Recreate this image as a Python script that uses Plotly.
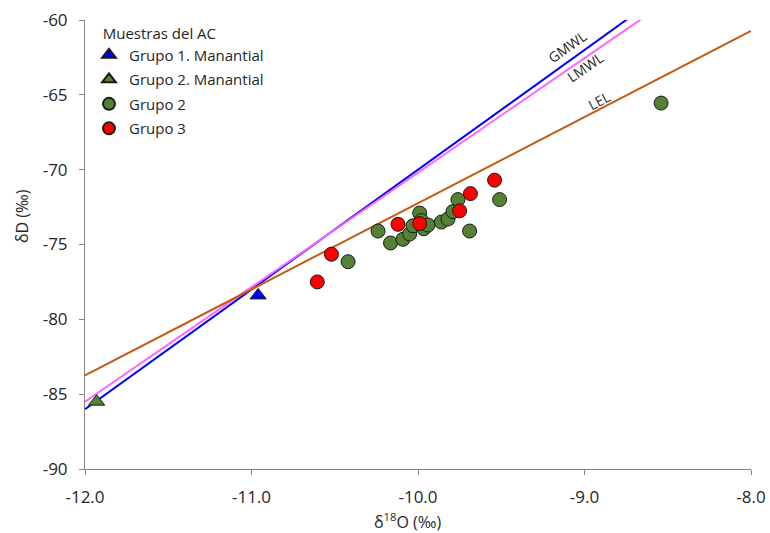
import math
import plotly.graph_objects as go

# ---------------- data ----------------
g1_man_x = [-10.96]
g1_man_y = [-78.4]

g2_man_x = [-11.93]
g2_man_y = [-85.5]

g2_x = [-10.42, -10.24, -10.165, -10.09, -10.05, -10.03, -9.99, -9.98, -9.965,
        -9.94, -9.86, -9.82, -9.79, -9.76, -9.69, -9.51, -8.54]
g2_y = [-76.15, -74.1, -74.9, -74.65, -74.3, -73.75, -72.9, -73.4, -73.95,
        -73.7, -73.5, -73.3, -72.8, -72.0, -74.1, -72.0, -65.55]

g3_x = [-10.605, -10.52, -10.12, -9.99, -9.75, -9.685, -9.54]
g3_y = [-77.5, -75.65, -73.65, -73.6, -72.75, -71.6, -70.7]

# reference lines: dD = slope * d18O + intercept
line_names = ["GMWL", "LMWL", "LEL"]
line_slopes = [8.0, 7.65, 5.755]
line_intercepts = [10.0, 6.3, -14.69]
line_colors = ["#0000FF", "#FF66FF", "#C55A11"]
line_x_range = [-12.0, -8.0]
# label positions (along each line)
label_x = [-9.10, -9.00, -8.91]
label_y = [-61.8, -63.15, -65.4]

x_ticks = [-12.0, -11.0, -10.0, -9.0, -8.0]
x_tick_labels = ["-12.0", "-11.0", "-10.0", "-9.0", "-8.0"]
y_ticks = [-90, -85, -80, -75, -70, -65, -60]
y_tick_labels = ["-90", "-85", "-80", "-75", "-70", "-65", "-60"]

FONT = "Open Sans"
TXT = "#262626"

fig = go.Figure()

for name, m, b, col in zip(line_names, line_slopes, line_intercepts, line_colors):
    fig.add_trace(go.Scatter(
        x=line_x_range, y=[m * v + b for v in line_x_range],
        mode="lines", line=dict(color=col, width=2),
        showlegend=False, hoverinfo="skip"))

mk_line = dict(color="#1a1a1a", width=1)
fig.add_trace(go.Scatter(
    x=g1_man_x, y=g1_man_y, mode="markers", name="Grupo 1. Manantial", legendgroup="a",
    marker=dict(symbol="triangle-up", size=14, color="#0000FF", line=mk_line)))
fig.add_trace(go.Scatter(
    x=g2_man_x, y=g2_man_y, mode="markers", name="Grupo 2. Manantial", legendgroup="b",
    marker=dict(symbol="triangle-up", size=14, color="#548235", line=mk_line)))
fig.add_trace(go.Scatter(
    x=g2_x, y=g2_y, mode="markers", name="Grupo 2", legendgroup="c",
    marker=dict(symbol="circle", size=14, color="#548235", line=mk_line)))
fig.add_trace(go.Scatter(
    x=g3_x, y=g3_y, mode="markers", name="Grupo 3", legendgroup="d",
    marker=dict(symbol="circle", size=14, color="#FF0000", line=mk_line)))

L, R, T, B = 85, 19, 20, 64
W, H = 770, 533
pw, ph = W - L - R, H - T - B
for name, m, lx, ly in zip(line_names, line_slopes, label_x, label_y):
    ang = math.degrees(math.atan(m * (ph / 30.0) / (pw / 4.0)))
    fig.add_annotation(x=lx, y=ly, text=name, showarrow=False, textangle=-ang,
                       xanchor="center", yanchor="middle",
                       font=dict(family=FONT, size=14, color=TXT))

# axis titles
fig.add_annotation(xref="paper", yref="paper", x=(407 - L) / pw, y=(H - B - 521) / ph,
                   xanchor="center", yanchor="middle",
                   text="δ<sup>18</sup>O (‰)", showarrow=False,
                   font=dict(family=FONT, size=16, color=TXT))
fig.add_annotation(xref="paper", yref="paper", x=(22 - L) / pw, y=(H - B - 216) / ph,
                   xanchor="center", yanchor="middle",
                   text="δD (‰)", showarrow=False, textangle=-90,
                   font=dict(family=FONT, size=16, color=TXT))

axis_common = dict(showgrid=False, zeroline=False, showline=True, automargin=False,
                   linecolor="#868686", linewidth=1, ticks="outside",
                   tickcolor="#868686", ticklen=5,
                   tickfont=dict(family=FONT, size=17, color=TXT),
                   ticklabelstandoff=8)

fig.update_layout(
    width=W, height=H,
    margin=dict(l=L, r=R, t=T, b=B, autoexpand=False),
    paper_bgcolor="white", plot_bgcolor="white",
    xaxis=dict(range=[-12, -8], tickvals=x_ticks, ticktext=x_tick_labels, **axis_common),
    yaxis=dict(range=[-90, -60], tickvals=y_ticks, ticktext=y_tick_labels, **axis_common),
    legend=dict(x=0.006, y=1.002, xanchor="left", yanchor="top",
                bgcolor="rgba(0,0,0,0)", itemsizing="constant",
                title=dict(text="&nbsp;&nbsp;&nbsp;Muestras del AC",
                           font=dict(family=FONT, size=15, color=TXT)),
                font=dict(family=FONT, size=15, color=TXT), tracegroupgap=2),
    font=dict(family=FONT, color=TXT),
)

fig.write_html("out.html")
